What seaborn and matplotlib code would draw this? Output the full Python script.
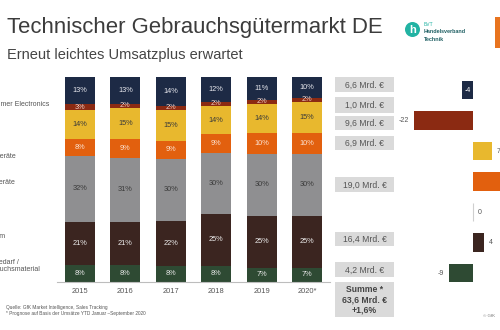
import numpy as np
import pandas as pd
import matplotlib
matplotlib.use("Agg")
import matplotlib.pyplot as plt
import seaborn as sns
from matplotlib.patches import Rectangle, Circle

sns.set_theme(style="white")
plt.rcParams["font.family"] = ["Liberation Sans", "DejaVu Sans"]

# ---------------- data ----------------
years = ["2015", "2016", "2017", "2018", "2019", "2020*"]
segments = ["Telekommunikation", "Foto", "Consumer Electronics", "Kleingeräte",
            "Großgeräte", "Telekom", "Bürobedarf / Verbrauchsmaterial"]
seg_colors = ["#1d2a45", "#8b2a12", "#e8b82e", "#e2600e", "#8f8f91", "#3b2520", "#2e4a33"]
seg_text_colors = ["#e8e8ee", "#f0d0c8", "#3a3a3a", "#fbe3d3", "#3a3a3a", "#eeeeee", "#e8e8e8"]

share_navy   = [13, 13, 14, 12, 11, 10]
share_red    = [3, 2, 2, 2, 2, 2]
share_yellow = [14, 15, 15, 14, 14, 15]
share_orange = [8, 9, 9, 9, 10, 10]
share_gray   = [32, 31, 30, 30, 30, 30]
share_brown  = [21, 21, 22, 25, 25, 25]
share_green  = [8, 8, 8, 8, 7, 7]

revenue_bn = [6.6, 1.0, 9.6, 6.9, 19.0, 16.4, 4.2]
total_bn = 63.6
total_growth = 1.6
change_pct = [-4, -22, 7, 12, 0, 4, -9]

left_labels = ["Consumer Electronics", "Kleingeräte", "Großgeräte", "Telekom",
               "Bürobedarf /\nVerbrauchsmaterial"]

# ---------------- figure ----------------
W, H = 500, 330
fig = plt.figure(figsize=(W / 100, H / 100), dpi=100)
fig.patch.set_facecolor("white")

def fx(x):
    return x / W

def fy(y):
    return 1 - y / H

# main stacked bars
ax = fig.add_axes([fx(57.3), fy(282), 272.4 / W, 205 / H])
shares = np.array([share_navy, share_red, share_yellow, share_orange,
                   share_gray, share_brown, share_green], dtype=float)
norm = shares / shares.sum(axis=0) * 100
cum_from_bottom = np.cumsum(norm[::-1], axis=0)[::-1]   # row i = top edge of segment i
for i in range(len(segments)):
    sns.barplot(x=years, y=cum_from_bottom[i], color=seg_colors[i], width=0.66,
                saturation=1, ax=ax, errorbar=None, zorder=2,
                linewidth=0, edgecolor="none")
for i in range(len(segments)):
    for j in range(len(years)):
        top = cum_from_bottom[i, j]
        mid = top - norm[i, j] / 2
        ax.text(j, mid, f"{int(shares[i, j])}%", ha="center", va="center",
                fontsize=5.3, color=seg_text_colors[i], zorder=5)
ax.set_xlim(-0.5, 5.5)
ax.set_ylim(0, 100)
for s in ["top", "right", "left"]:
    ax.spines[s].set_visible(False)
ax.spines["bottom"].set_color("#bdbdbd")
ax.spines["bottom"].set_linewidth(0.8)
ax.set_yticks([])
ax.set_xlabel("")
ax.set_ylabel("")
ax.tick_params(axis="x", length=0, labelsize=5.4, labelcolor="#555555", pad=4)
ax.set_xticks(np.arange(-0.5, 6.0, 1.0), minor=True)
ax.tick_params(axis="x", which="minor", length=2.5, color="#bdbdbd", width=0.6)
ax.patch.set_alpha(0)

# right change bars
ax2 = fig.add_axes([fx(395), fy(288.25), 105 / W, 213.5 / H])
sns.barplot(x=change_pct, y=segments, hue=segments, palette=seg_colors, legend=False,
            orient="h", width=0.6, saturation=1, ax=ax2, errorbar=None,
            linewidth=0, edgecolor="none")
xmin, xmax = -28.9, 10.0
ax2.set_xlim(xmin, xmax)
ax2.set_ylim(6.5, -0.5)
ax2.axis("off")
for p in ax2.patches:
    if abs(p.get_width()) < 1e-9:
        p.set_edgecolor("#cfcfcf")
        p.set_linewidth(0.8)
for i, v in enumerate(change_pct):
    if i == 0:
        ax2.text(v / 2, i, f"{v}", ha="center", va="center", fontsize=5, color="white")
    elif v < 0:
        ax2.text(v - 1.8, i, f"{v}", ha="right", va="center", fontsize=5, color="#555555")
    elif v + 1.8 < xmax - 1:
        ax2.text(v + 1.8, i, f"{v}", ha="left", va="center", fontsize=5, color="#555555")

# overlay for annotations in pixel coords
ov = fig.add_axes([0, 0, 1, 1])
ov.set_xlim(0, W)
ov.set_ylim(H, 0)
ov.axis("off")
ov.patch.set_alpha(0)

def fmt(v):
    return f"{v:.1f}".replace(".", ",")

box_y = [(77, 92), (97, 113), (116, 130), (136, 150), (177, 192), (232, 246), (262, 277)]
for (t, b), v in zip(box_y, revenue_bn):
    ov.add_patch(Rectangle((335, t), 59, b - t, facecolor="#dadada", edgecolor="none"))
    ov.text(364.5, (t + b) / 2 + 0.5, f"{fmt(v)} Mrd. €", ha="center", va="center",
            fontsize=6.2, color="#555555")
ov.add_patch(Rectangle((335, 282), 59, 35, facecolor="#dadada", edgecolor="none"))
ov.text(364.5, 300, f"Summe *\n{fmt(total_bn)} Mrd. €\n+{fmt(total_growth)}%", ha="center",
        va="center", fontsize=6.2, color="#444444", fontweight="bold", linespacing=1.15)

# left category labels (cut at figure edge as in the reference)
for lab, y in zip(left_labels, [104, 157, 183, 237, 266]):
    ov.text(-20, y, lab, ha="left", va="center", fontsize=5, color="#555555",
            linespacing=1.0)

# titles
ov.text(7, 33, "Technischer Gebrauchsgütermarkt DE", ha="left", va="baseline",
        fontsize=15.9, color="#3c3c3c")
ov.text(7, 59, "Erneut leichtes Umsatzplus erwartet", ha="left", va="baseline",
        fontsize=10.5, color="#454545")

# logo
ov.add_patch(Circle((412.5, 29.5), 7.5, facecolor="#22b3a3", edgecolor="none"))
ov.text(412.5, 30, "h", ha="center", va="center", fontsize=8, color="white", fontweight="bold")
ov.text(424, 24, "BVT", ha="left", va="center", fontsize=3.6, color="#22b3a3")
ov.text(424, 31.5, "Handelsverband", ha="left", va="center", fontsize=3.9, color="#1f5f63",
        fontweight="bold")
ov.text(424, 39.5, "Technik", ha="left", va="center", fontsize=3.9, color="#1f5f63",
        fontweight="bold")
ov.add_patch(Rectangle((494.5, 17), 6, 31, facecolor="#e8741f", edgecolor="none"))

# footnotes
ov.text(6, 307, "Quelle: GfK Market Intelligence, Sales Tracking", ha="left", va="center",
        fontsize=3.4, color="#555555")
ov.text(6, 313.5, "* Prognose auf Basis der Umsätze YTD Januar –September 2020", ha="left",
        va="center", fontsize=3.4, color="#555555")
ov.text(495, 316, "© GfK", ha="right", va="center", fontsize=3.2, color="#777777")

fig.savefig("out.png", dpi=100)
